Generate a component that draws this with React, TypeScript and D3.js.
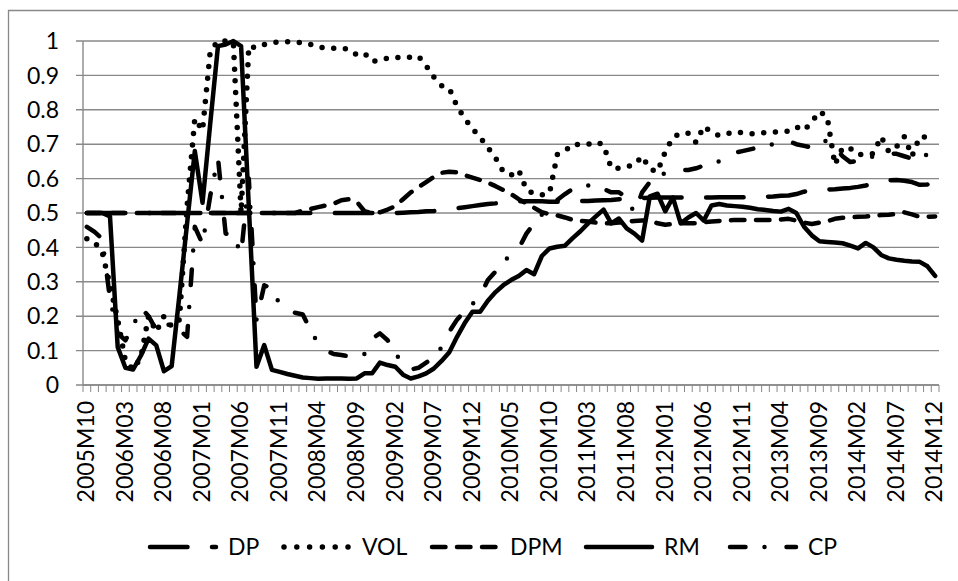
import React, { useEffect, useRef } from 'react';
import * as d3 from 'd3';

// monthly categories 2005M10 .. 2014M12
const months = [
  '2005M10', '2005M11', '2005M12',
  '2006M01', '2006M02', '2006M03', '2006M04', '2006M05', '2006M06', '2006M07', '2006M08', '2006M09', '2006M10', '2006M11', '2006M12',
  '2007M01', '2007M02', '2007M03', '2007M04', '2007M05', '2007M06', '2007M07', '2007M08', '2007M09', '2007M10', '2007M11', '2007M12',
  '2008M01', '2008M02', '2008M03', '2008M04', '2008M05', '2008M06', '2008M07', '2008M08', '2008M09', '2008M10', '2008M11', '2008M12',
  '2009M01', '2009M02', '2009M03', '2009M04', '2009M05', '2009M06', '2009M07', '2009M08', '2009M09', '2009M10', '2009M11', '2009M12',
  '2010M01', '2010M02', '2010M03', '2010M04', '2010M05', '2010M06', '2010M07', '2010M08', '2010M09', '2010M10', '2010M11', '2010M12',
  '2011M01', '2011M02', '2011M03', '2011M04', '2011M05', '2011M06', '2011M07', '2011M08', '2011M09', '2011M10', '2011M11', '2011M12',
  '2012M01', '2012M02', '2012M03', '2012M04', '2012M05', '2012M06', '2012M07', '2012M08', '2012M09', '2012M10', '2012M11', '2012M12',
  '2013M01', '2013M02', '2013M03', '2013M04', '2013M05', '2013M06', '2013M07', '2013M08', '2013M09', '2013M10', '2013M11', '2013M12',
  '2014M01', '2014M02', '2014M03', '2014M04', '2014M05', '2014M06', '2014M07', '2014M08', '2014M09', '2014M10', '2014M11', '2014M12',
];

const yTicks = [0, 0.1, 0.2, 0.3, 0.4, 0.5, 0.6, 0.7, 0.8, 0.9, 1];
const yTickLabels = ['0', '0.1', '0.2', '0.3', '0.4', '0.5', '0.6', '0.7', '0.8', '0.9', '1'];

const DP = [
  0.5, 0.5, 0.5, 0.5, 0.5, 0.5, 0.5, 0.5, 0.5, 0.5,
  0.5, 0.5, 0.5, 0.5, 0.5, 0.5, 0.5, 0.5, 0.5, 0.5,
  0.5, 0.5, 0.5, 0.5, 0.5, 0.5, 0.5, 0.5, 0.5, 0.5,
  0.5, 0.5, 0.5, 0.5, 0.5, 0.5, 0.5, 0.5, 0.5, 0.5,
  0.5, 0.501, 0.502, 0.503, 0.505, 0.506, 0.508, 0.511, 0.514, 0.517,
  0.52, 0.523, 0.526, 0.528, 0.531, 0.533, 0.534, 0.534, 0.534, 0.534,
  0.533, 0.533, 0.533, 0.534, 0.535, 0.535, 0.536, 0.537, 0.538, 0.54,
  0.541, 0.542, 0.543, 0.544, 0.545, 0.545, 0.545, 0.545, 0.545, 0.545,
  0.545, 0.545, 0.546, 0.546, 0.546, 0.546, 0.546, 0.546, 0.547, 0.548,
  0.55, 0.551, 0.555, 0.562, 0.566, 0.567, 0.568, 0.569, 0.571, 0.573,
  0.576, 0.58, 0.585, 0.59, 0.595, 0.596, 0.594, 0.59, 0.582, 0.583,
  0.591,
];

const VOL = [
  0.425, 0.415, 0.385, 0.29, 0.19, 0.07, 0.045, 0.08, 0.2, 0.155,
  0.2, 0.17, 0.19, 0.52, 0.775, 0.74, 0.97, 1.0, 1.0, 0.995,
  0.5, 0.985, 0.98, 0.99, 0.995, 0.998, 0.998, 0.997, 0.995, 0.99,
  0.983, 0.979, 0.979, 0.979, 0.976, 0.96, 0.964, 0.94, 0.945, 0.95,
  0.953, 0.95, 0.953, 0.956, 0.928, 0.895, 0.87, 0.862, 0.81, 0.775,
  0.745, 0.72, 0.69, 0.66, 0.62, 0.61, 0.625, 0.567, 0.556, 0.553,
  0.558, 0.67, 0.68, 0.7, 0.698, 0.7, 0.707, 0.698, 0.63, 0.63,
  0.635, 0.64, 0.665, 0.628, 0.62, 0.678, 0.72, 0.732, 0.732, 0.705,
  0.752, 0.735, 0.725, 0.73, 0.736, 0.733, 0.73, 0.732, 0.734, 0.735,
  0.736, 0.738, 0.75, 0.74, 0.765, 0.795, 0.78, 0.64, 0.69, 0.688,
  0.67, 0.67, 0.673, 0.722, 0.678, 0.693, 0.722, 0.665, 0.722, 0.72,
  0.715,
];

const DPM = [
  0.5, 0.5, 0.5, 0.5, 0.5, 0.5, 0.5, 0.5, 0.5, 0.5,
  0.5, 0.5, 0.5, 0.5, 0.5, 0.5, 0.5, 0.5, 0.5, 0.5,
  0.5, 0.5, 0.5, 0.5, 0.5, 0.5, 0.5, 0.5, 0.507, 0.512,
  0.517, 0.522, 0.527, 0.537, 0.54, 0.533, 0.505, 0.5, 0.502, 0.51,
  0.52, 0.54, 0.56, 0.575, 0.59, 0.605, 0.617, 0.62, 0.618, 0.61,
  0.603, 0.596, 0.588, 0.578, 0.567, 0.555, 0.54, 0.528, 0.515, 0.502,
  0.497, 0.493, 0.487, 0.48, 0.477, 0.475, 0.472, 0.47, 0.47, 0.472,
  0.475, 0.477, 0.478, 0.478, 0.47, 0.466, 0.468, 0.47, 0.47, 0.47,
  0.473, 0.475, 0.477, 0.478, 0.48, 0.48, 0.48, 0.48, 0.48, 0.48,
  0.481, 0.483, 0.478, 0.472, 0.468, 0.472, 0.476, 0.483, 0.486, 0.487,
  0.489, 0.49, 0.492, 0.494, 0.495, 0.497, 0.502, 0.496, 0.489, 0.489,
  0.49,
];

const RM = [
  0.5, 0.5, 0.5, 0.49, 0.11, 0.05, 0.045, 0.085, 0.135, 0.115,
  0.04, 0.055, 0.26, 0.47, 0.68, 0.53, 0.76, 0.985, 0.99, 1.0,
  0.985, 0.52, 0.053, 0.116, 0.044, 0.038, 0.032, 0.027, 0.022, 0.02,
  0.018, 0.019, 0.019, 0.019, 0.018, 0.019, 0.034, 0.034, 0.065, 0.058,
  0.053, 0.03, 0.019, 0.025, 0.034, 0.048, 0.07, 0.095, 0.14, 0.18,
  0.213, 0.213, 0.245, 0.27, 0.29, 0.305, 0.317, 0.334, 0.322, 0.375,
  0.397, 0.402, 0.405, 0.427, 0.447, 0.47, 0.49, 0.51, 0.47, 0.484,
  0.455, 0.44, 0.42, 0.548, 0.556, 0.505, 0.545, 0.47, 0.487, 0.5,
  0.478, 0.522, 0.526, 0.522, 0.52, 0.518, 0.515, 0.511, 0.509, 0.506,
  0.504, 0.512, 0.5, 0.46, 0.435, 0.418, 0.416, 0.414, 0.412, 0.405,
  0.397, 0.413, 0.4, 0.378, 0.368, 0.364, 0.361, 0.359, 0.358, 0.345,
  0.317,
];

const CP = [
  0.46, 0.445, 0.425, 0.25, 0.15, 0.13, 0.17, 0.225, 0.2, 0.16,
  0.16, 0.185, 0.16, 0.14, 0.46, 0.41, 0.55, 0.66, 0.44, 0.435,
  0.38, 0.6, 0.19, 0.29, 0.28, 0.235, 0.22, 0.21, 0.205, 0.16,
  0.12, 0.1, 0.09, 0.087, 0.083, 0.085, 0.09, 0.135, 0.15, 0.13,
  0.095, 0.055, 0.045, 0.05, 0.065, 0.08, 0.11, 0.155, 0.19, 0.215,
  0.235, 0.26, 0.305, 0.33, 0.357, 0.38, 0.397, 0.44, 0.47, 0.495,
  0.52, 0.538, 0.555, 0.57, 0.575, 0.58, 0.59, 0.57, 0.56, 0.56,
  0.545, 0.5, 0.56, 0.59, 0.61, 0.615, 0.62, 0.625, 0.625, 0.63,
  0.638, 0.642, 0.65, 0.665, 0.675, 0.68, 0.685, 0.69, 0.697, 0.7,
  0.705, 0.709, 0.7, 0.695, 0.69, 0.7, 0.712, 0.69, 0.665, 0.648,
  0.652, 0.658, 0.665, 0.67, 0.673, 0.672, 0.665, 0.658, 0.672, 0.668,
  0.662,
];

const seriesNames = ['DP', 'VOL', 'DPM', 'RM', 'CP'];
const seriesValues = [DP, VOL, DPM, RM, CP];

// line styles: long dash, round dot, dash, solid, long dash dot
const dashStyle: { [k: string]: string | null } = {
  DP: '37.5,24.5',
  VOL: '0,11.7',
  DPM: '13.5,11.5',
  RM: null,
  CP: '15.5,19,0,22',
};
const strokeW: { [k: string]: number } = { DP: 4.5, VOL: 5.5, DPM: 4.5, RM: 4.5, CP: 4.5 };

const FONT = "Lato, 'Noto Sans', sans-serif";

function App() {
  const ref = useRef<SVGSVGElement>(null);

  useEffect(() => {
    const svg = d3.select(ref.current);
    svg.selectAll('*').remove();

    const left = 83, right = 939, top = 41, bottom = 385;
    const grey = '#898989';

    const x = d3.scaleBand<string>().domain(months).range([left, right]);
    const y = d3.scaleLinear().domain([0, 1]).range([bottom, top]);
    const cx = (i: number) => (x(months[i]) as number) + x.bandwidth() / 2;

    // chart area border (only left and top fall inside the picture)
    svg.append('path')
      .attr('d', 'M8.5,600 V10.5 H970')
      .attr('fill', 'none')
      .attr('stroke', grey)
      .attr('stroke-width', 1.3);

    // gridlines + y ticks
    svg.append('g')
      .selectAll('line')
      .data(yTicks)
      .enter()
      .append('line')
      .attr('x1', left - 7)
      .attr('x2', right)
      .attr('y1', d => y(d))
      .attr('y2', d => y(d))
      .attr('stroke', grey)
      .attr('stroke-width', 1.4);

    // y axis line
    svg.append('line')
      .attr('x1', left).attr('x2', left)
      .attr('y1', y(1)).attr('y2', y(0))
      .attr('stroke', grey).attr('stroke-width', 1.4);

    // y labels
    svg.append('g')
      .selectAll('text')
      .data(yTicks)
      .enter()
      .append('text')
      .attr('x', 59)
      .attr('y', d => y(d))
      .attr('dy', '0.36em')
      .attr('text-anchor', 'end')
      .style('font-family', FONT)
      .style('font-size', '23px')
      .attr('fill', '#000')
      .text((d, i) => yTickLabels[i]);

    // x tick marks at category boundaries
    const bounds = d3.range(months.length + 1).map(k => left + k * x.step());
    svg.append('g')
      .selectAll('line')
      .data(bounds)
      .enter()
      .append('line')
      .attr('x1', d => d).attr('x2', d => d)
      .attr('y1', bottom).attr('y2', bottom + 7)
      .attr('stroke', grey).attr('stroke-width', 1);

    // x labels every 5 months
    const labelIdx = d3.range(0, months.length, 5);
    svg.append('g')
      .selectAll('text')
      .data(labelIdx)
      .enter()
      .append('text')
      .attr('transform', i => `translate(${cx(i) - 1},${bottom + 16}) rotate(-90)`)
      .attr('dy', '0.36em')
      .attr('text-anchor', 'end')
      .style('font-family', FONT)
      .style('font-size', '23px')
      .attr('fill', '#000')
      .text(i => months[i]);

    // series lines
    const line = d3.line<number>()
      .x((d, i) => cx(i))
      .y(d => y(d));

    seriesNames.forEach((name, k) => {
      const p = svg.append('path')
        .datum(seriesValues[k])
        .attr('d', line)
        .attr('fill', 'none')
        .attr('stroke', '#000')
        .attr('stroke-width', strokeW[name])
        .attr('stroke-linejoin', 'round')
        .attr('stroke-linecap', 'round');
      if (dashStyle[name]) p.attr('stroke-dasharray', dashStyle[name] as string);
    });

    // x axis line drawn over the data
    svg.append('line')
      .attr('x1', left).attr('x2', right)
      .attr('y1', bottom).attr('y2', bottom)
      .attr('stroke', grey).attr('stroke-width', 1.4);

    // legend
    const legendTextX = [228, 362, 510, 664, 808];
    const ly = 547;
    const lg = svg.append('g');
    seriesNames.forEach((name, k) => {
      const tx = legendTextX[k];
      const l = lg.append('line')
        .attr('x1', tx - 78).attr('x2', tx - 12)
        .attr('y1', ly).attr('y2', ly)
        .attr('stroke', '#000')
        .attr('stroke-width', strokeW[name])
        .attr('stroke-linecap', 'round');
      if (dashStyle[name]) l.attr('stroke-dasharray', name === 'VOL' ? '0,12.8' : (dashStyle[name] as string));
      lg.append('text')
        .attr('x', tx)
        .attr('y', ly)
        .attr('dy', '0.36em')
        .style('font-family', FONT)
        .style('font-size', '23px')
        .attr('fill', '#000')
        .text(name);
    });
  }, []);

  return (
    <svg
      ref={ref}
      width={958}
      height={581}
      style={{ position: 'absolute', left: 0, top: 0, background: '#fff' }}
    />
  );
}

export default App;
